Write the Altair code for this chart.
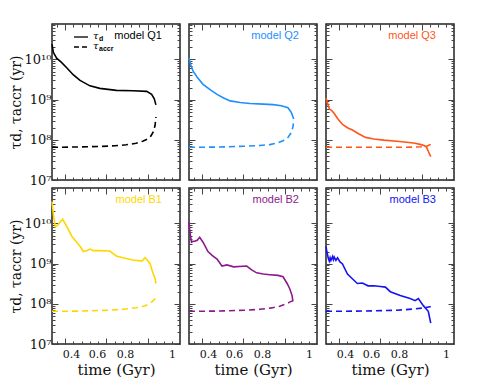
import altair as alt
import pandas as pd

# ---------------- data ----------------
PANELS = ["model Q1", "model Q2", "model Q3", "model B1", "model B2", "model B3"]
COLORS = ["#000000", "#1e8fff", "#ff5519", "#ffd700", "#8b1a8b", "#1414f0"]

Q1_TD_T = [0.27, 0.278, 0.298, 0.329, 0.359, 0.40, 0.44, 0.50, 0.56, 0.66, 0.76, 0.844, 0.874, 0.89, 0.90]
Q1_TD_V = [2.4e10, 1.5e10, 1.07e10, 8.3e9, 6.2e9, 4.1e9, 3.0e9, 2.2e9, 1.9e9, 1.7e9, 1.66e9, 1.6e9, 1.35e9, 1.05e9, 7.4e8]
Q1_TA_T = [0.27, 0.40, 0.55, 0.65, 0.72, 0.78, 0.82, 0.85, 0.87, 0.885, 0.895, 0.90]
Q1_TA_V = [6.5e7, 6.6e7, 6.8e7, 7.1e7, 7.5e7, 8.2e7, 9.2e7, 1.05e8, 1.25e8, 1.6e8, 2.3e8, 3.7e8]

Q2_TD_T = [0.27, 0.28, 0.295, 0.32, 0.355, 0.40, 0.44, 0.48, 0.52, 0.58, 0.64, 0.72, 0.78, 0.83, 0.87, 0.89, 0.905]
Q2_TD_V = [1.1e10, 7.5e9, 5.1e9, 3.6e9, 2.4e9, 1.75e9, 1.35e9, 1.1e9, 9.3e8, 8.5e8, 8.0e8, 7.7e8, 7.5e8, 7.0e8, 6.3e8, 4.8e8, 3.3e8]
Q2_TA_T = [0.27, 0.45, 0.60, 0.70, 0.76, 0.80, 0.84, 0.87, 0.89, 0.90, 0.905]
Q2_TA_V = [6.5e7, 6.6e7, 6.9e7, 7.2e7, 7.6e7, 8.2e7, 9.5e7, 1.15e8, 1.5e8, 2.1e8, 2.9e8]

Q3_TD_T = [0.27, 0.28, 0.29, 0.305, 0.32, 0.34, 0.37, 0.40, 0.43, 0.47, 0.51, 0.56, 0.62, 0.70, 0.76, 0.81, 0.84, 0.865, 0.88, 0.89, 0.905]
Q3_TD_V = [1.1e9, 8.0e8, 5.9e8, 5.3e8, 4.5e8, 3.4e8, 2.4e8, 2.0e8, 1.75e8, 1.4e8, 1.15e8, 1.05e8, 9.8e7, 9.2e7, 8.7e7, 8.2e7, 7.7e7, 7.2e7, 6.5e7, 5.2e7, 3.8e7]
Q3_TA_T = [0.27, 0.50, 0.70, 0.80, 0.85, 0.875, 0.89, 0.905]
Q3_TA_V = [6.5e7, 6.5e7, 6.5e7, 6.6e7, 6.7e7, 6.8e7, 7.2e7, 7.7e7]

B1_TD_T = [0.27, 0.28, 0.29, 0.305, 0.32, 0.335, 0.36, 0.39, 0.42, 0.44, 0.46, 0.48, 0.50, 0.52, 0.56, 0.62, 0.66, 0.70, 0.76, 0.815, 0.835, 0.85, 0.865, 0.88, 0.895, 0.90]
B1_TD_V = [3.5e10, 1.5e10, 8.3e9, 9.0e9, 1.1e10, 1.26e10, 8.3e9, 4.8e9, 3.4e9, 2.7e9, 2.0e9, 2.1e9, 2.3e9, 2.1e9, 2.1e9, 2.05e9, 1.55e9, 1.4e9, 1.23e9, 1.15e9, 1.4e9, 1.2e9, 9.8e8, 6.2e8, 4.2e8, 3.2e8]
B1_TA_T = [0.27, 0.45, 0.60, 0.70, 0.78, 0.83, 0.86, 0.88, 0.895, 0.90]
B1_TA_V = [6.5e7, 6.6e7, 6.9e7, 7.3e7, 8.0e7, 8.8e7, 1.0e8, 1.15e8, 1.35e8, 1.55e8]

B2_TD_T = [0.27, 0.275, 0.285, 0.295, 0.305, 0.32, 0.335, 0.355, 0.385, 0.41, 0.44, 0.47, 0.50, 0.54, 0.62, 0.65, 0.68, 0.72, 0.76, 0.81, 0.84, 0.865, 0.88, 0.895, 0.90]
B2_TD_V = [1.1e10, 6.3e9, 3.4e9, 3.6e9, 3.6e9, 3.8e9, 4.5e9, 3.4e9, 2.0e9, 1.6e9, 1.3e9, 8.7e8, 9.3e8, 8.3e8, 8.7e8, 7.0e8, 5.9e8, 5.5e8, 5.3e8, 5.1e8, 4.7e8, 3.2e8, 2.4e8, 1.6e8, 1.15e8]
B2_TA_T = [0.27, 0.45, 0.60, 0.70, 0.77, 0.82, 0.86, 0.88, 0.90]
B2_TA_V = [6.5e7, 6.6e7, 6.9e7, 7.3e7, 7.9e7, 8.7e7, 1.0e8, 1.1e8, 1.2e8]

B3_TD_T = [0.27, 0.275, 0.285, 0.29, 0.295, 0.30, 0.31, 0.315, 0.32, 0.33, 0.34, 0.355, 0.37, 0.40, 0.43, 0.46, 0.49, 0.525, 0.56, 0.60, 0.63, 0.66, 0.72, 0.78, 0.81, 0.83, 0.86, 0.89, 0.905]
B3_TD_V = [2.7e9, 2.0e9, 1.3e9, 1.15e9, 1.4e9, 1.2e9, 1.5e9, 1.25e9, 1.45e9, 1.2e9, 1.4e9, 1.1e9, 9.8e8, 5.5e8, 4.2e8, 3.2e8, 3.3e8, 2.8e8, 2.8e8, 2.7e8, 2.6e8, 2.0e8, 1.6e8, 1.35e8, 1.2e8, 1.35e8, 9.0e7, 6.5e7, 3.3e7]
B3_TA_T = [0.27, 0.50, 0.70, 0.80, 0.86, 0.90, 0.905]
B3_TA_V = [6.5e7, 6.6e7, 6.9e7, 7.4e7, 7.9e7, 8.4e7, 8.6e7]

SERIES = [
    (Q1_TD_T, Q1_TD_V, Q1_TA_T, Q1_TA_V),
    (Q2_TD_T, Q2_TD_V, Q2_TA_T, Q2_TA_V),
    (Q3_TD_T, Q3_TD_V, Q3_TA_T, Q3_TA_V),
    (B1_TD_T, B1_TD_V, B1_TA_T, B1_TA_V),
    (B2_TD_T, B2_TD_V, B2_TA_T, B2_TA_V),
    (B3_TD_T, B3_TD_V, B3_TA_T, B3_TA_V),
]

# axis ticks / labels
X_DOMAIN = [0.27, 1.046]
Y_DOMAIN = [1e7, 7.6e10]
X_MAJOR = [0.35, 0.60, 0.85]
X_MINOR = [0.30, 0.40, 0.45, 0.50, 0.55, 0.65, 0.70, 0.75, 0.80, 0.90, 0.95, 1.00]
X_LABEL_POS = [0.385, 0.543, 0.712, 0.997]
X_LABEL_TEXT = ["0.4", "0.6", "0.8", "1"]
Y_MAJOR = [1e7, 1e8, 1e9, 1e10]
Y_LABEL_TEXT = ["10\u2077", "10\u2078", "10\u2079", "10\u00b9\u2070"]
Y_MINOR = [m * 10 ** k for k in range(7, 11) for m in range(2, 10) if m * 10 ** k <= Y_DOMAIN[1]]

X_TITLE = "time (Gyr)"
Y_TITLE = "\u03c4d, \u03c4accr (yr)"

W, H = 128, 156
MAJ, MIN = 6, 3
SERIF = "DejaVu Serif"


def label_expr(pos, texts):
    expr = "'" + texts[-1] + "'"
    for i in range(len(pos) - 2, -1, -1):
        mid = (pos[i] + pos[i + 1]) / 2
        expr = f"datum.value < {mid} ? '{texts[i]}' : ({expr})"
    return expr


def tick_axis(orient, values, size):
    return alt.Axis(orient=orient, values=values, tickSize=size, offset=-size,
                    labels=False, title=None, domain=False, grid=False,
                    ticks=True, tickColor="#444", tickWidth=1,
                    minExtent=0, maxExtent=0)


def panel(i):
    td_t, td_v, ta_t, ta_v = SERIES[i]
    color = COLORS[i]
    bottom = i >= 3
    left = i % 3 == 0
    xs = alt.Scale(domain=X_DOMAIN, nice=False, zero=False)
    ys = alt.Scale(type="log", domain=Y_DOMAIN, nice=False)

    solid = pd.DataFrame({"t": td_t, "v": td_v})
    dashed = pd.DataFrame({"t": ta_t, "v": ta_v})

    if bottom:
        x_lab = alt.Axis(orient="bottom", values=X_LABEL_POS, ticks=False, domain=False, grid=False,
                         labelExpr=label_expr(X_LABEL_POS, X_LABEL_TEXT), labelPadding=4,
                         labelFont=SERIF, labelFontSize=11, labelColor="#111",
                         title=X_TITLE, titleFont=SERIF, titleFontSize=15,
                         titleFontWeight="normal", titleColor="#111", titlePadding=3)
    else:
        x_lab = None
    if left:
        y_maj = alt.Axis(orient="left", values=Y_MAJOR, tickSize=MAJ, offset=-MAJ, domain=False, grid=False,
                         tickColor="#444", labelExpr=label_expr(Y_MAJOR, Y_LABEL_TEXT),
                         labelFont=SERIF, labelFontSize=13, labelColor="#111", labelPadding=1,
                         title=Y_TITLE, titleFont=SERIF, titleFontSize=14, titleFontWeight="normal",
                         titleColor="#111", titlePadding=1)
    else:
        y_maj = tick_axis("left", Y_MAJOR, MAJ)

    l1 = alt.Chart(solid).mark_line(color=color, strokeWidth=1.6).encode(
        x=alt.X("t:Q", scale=xs, axis=x_lab),
        y=alt.Y("v:Q", scale=ys, axis=y_maj),
    )
    l2 = alt.Chart(dashed).mark_line(color=color, strokeWidth=1.6, strokeDash=[6, 4]).encode(
        x=alt.X("t:Q", scale=xs, axis=tick_axis("bottom", X_MAJOR, MAJ)),
        y=alt.Y("v:Q", scale=ys, axis=tick_axis("left", Y_MINOR, MIN)),
    )
    l3 = alt.Chart(dashed).mark_line(opacity=0).encode(
        x=alt.X("t:Q", scale=xs, axis=tick_axis("bottom", X_MINOR, MIN)),
        y=alt.Y("v:Q", scale=ys, axis=tick_axis("right", Y_MAJOR, MAJ)),
    )
    l4 = alt.Chart(dashed).mark_line(opacity=0).encode(
        x=alt.X("t:Q", scale=xs, axis=tick_axis("top", X_MAJOR, MAJ)),
        y=alt.Y("v:Q", scale=ys, axis=tick_axis("right", Y_MINOR, MIN)),
    )
    l5 = alt.Chart(dashed).mark_line(opacity=0).encode(
        x=alt.X("t:Q", scale=xs, axis=tick_axis("top", X_MINOR, MIN)),
        y=alt.Y("v:Q", scale=ys, axis=None),
    )
    name = alt.Chart(pd.DataFrame({"n": [PANELS[i]]})).mark_text(
        align="right", baseline="middle", font="Liberation Sans", fontSize=11, color=color
    ).encode(x=alt.value(W - 18), y=alt.value(12), text="n:N")

    layers = [l1, l2, l3, l4, l5, name]
    if i == 0:
        leg = pd.DataFrame({"k": ["d"]})
        r1 = alt.Chart(leg).mark_rule(color="#000", strokeWidth=1.3).encode(
            x=alt.value(22), x2=alt.value(36), y=alt.value(13))
        r2 = alt.Chart(leg).mark_rule(color="#000", strokeWidth=1.3, strokeDash=[5, 3]).encode(
            x=alt.value(22), x2=alt.value(36), y=alt.value(23))
        tau1 = alt.Chart(pd.DataFrame({"s": ["\u03c4"]})).mark_text(
            align="left", baseline="middle", font=SERIF, fontSize=10, fontStyle="italic").encode(
            x=alt.value(41), y=alt.value(12), text="s:N")
        sub1 = alt.Chart(pd.DataFrame({"s": ["d"]})).mark_text(
            align="left", baseline="middle", font="Liberation Sans", fontSize=7, fontWeight="bold").encode(
            x=alt.value(47), y=alt.value(15), text="s:N")
        tau2 = alt.Chart(pd.DataFrame({"s": ["\u03c4"]})).mark_text(
            align="left", baseline="middle", font=SERIF, fontSize=10, fontStyle="italic").encode(
            x=alt.value(41), y=alt.value(22), text="s:N")
        sub2 = alt.Chart(pd.DataFrame({"s": ["accr"]})).mark_text(
            align="left", baseline="middle", font="Liberation Sans", fontSize=7, fontWeight="bold").encode(
            x=alt.value(47), y=alt.value(25), text="s:N")
        layers += [r1, r2, tau1, sub1, tau2, sub2]

    return alt.layer(*layers).resolve_axis(x="independent", y="independent").properties(width=W, height=H)


chart = alt.concat(*[panel(i) for i in range(6)], columns=3,
                   spacing={"row": 8, "column": 9}, bounds="flush").properties(
    padding={"left": 0, "top": 14, "right": 5, "bottom": 5}
).configure_view(stroke="#222", strokeWidth=1.5).configure_axis(grid=False)

chart.save("out.html", embed_options={"renderer": "svg", "actions": False})
